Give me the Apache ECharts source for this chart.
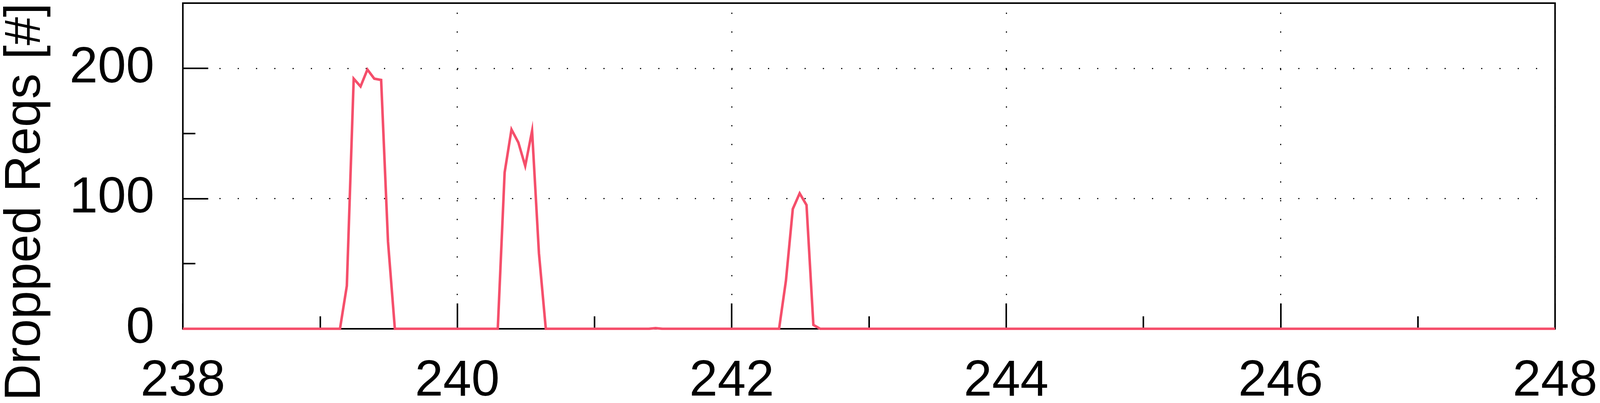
<!DOCTYPE html>
<html>
<head>
<meta charset="utf-8">
<script src="https://cdn.jsdelivr.net/npm/echarts@6/dist/echarts.min.js"></script>
<style>
html,body{margin:0;padding:0;background:#ffffff;overflow:hidden;}
#chart{width:100vw;height:100vh;}
</style>
</head>
<body>
<div id="chart"></div>
<script>
// time (x) and dropped requests (y)
const times = [238, 239.145, 239.195, 239.245, 239.295, 239.345, 239.395, 239.445, 239.495, 239.545,
               240.295, 240.345, 240.395, 240.445, 240.495, 240.545, 240.595, 240.645,
               241.395, 241.445, 241.495,
               242.345, 242.395, 242.445, 242.495, 242.545, 242.595, 242.645, 248];
const drops = [0, 0, 33, 192, 186, 199, 192, 191, 67, 0,
               0, 120, 153, 143, 125, 152, 58, 0,
               0, 0.5, 0,
               0, 37, 92, 104, 95, 3, 0, 0];
const xRange = [238, 248];
const xStep = 2;
const yRange = [0, 250];
const yMajorStep = 100;
const yMinorStep = 50;
const yTitle = 'Dropped Reqs [#]';

const FONT = 'Liberation Sans, Arial, Helvetica, sans-serif';
const FS = 130;
const lineColor = '#f54f6b';

const el = document.getElementById('chart');
const chart = echarts.init(el, null, {renderer: 'canvas'});
const W = chart.getWidth();
const sx = W / 4200;   // layout designed on a 4200-wide canvas

chart.setOption({
  animation: false,
  backgroundColor: '#ffffff',
  grid: {left: 480 * sx, right: 118 * sx, top: 8, bottom: 190, show: true, borderColor: '#000', borderWidth: 4,
         backgroundColor: 'transparent', containLabel: false, outerBoundsMode: 'none'},
  graphic: [{
    type: 'text', x: 68 * sx, y: 517, rotation: Math.PI / 2, silent: true,
    style: {text: yTitle, fill: '#000', font: FS + 'px ' + FONT, align: 'center', verticalAlign: 'middle'}
  }],
  xAxis: {
    type: 'value', min: xRange[0], max: xRange[1], interval: xStep,
    axisLine: {show: false},
    axisTick: {show: true, inside: true, length: 65, lineStyle: {color: '#000', width: 4}},
    minorTick: {show: true, splitNumber: 2, length: 32, lineStyle: {color: '#000', width: 4}},
    axisLabel: {color: '#000', fontSize: FS, fontFamily: FONT, margin: 70},
    splitLine: {show: true, lineStyle: {color: '#000', width: 3, type: [3, 45], dashOffset: 23.5}}
  },
  yAxis: [
    {
      type: 'value', position: 'left', min: yRange[0], max: yRange[1], interval: yMinorStep,
      axisLine: {show: false},
      axisTick: {show: true, inside: true, length: 32, lineStyle: {color: '#000', width: 4}},
      axisLabel: {show: false},
      splitLine: {show: false}
    },
    {
      type: 'value', position: 'left', min: yRange[0], max: yRange[1], interval: yMajorStep,
      axisLine: {show: false},
      axisTick: {show: true, inside: true, length: 65, lineStyle: {color: '#000', width: 4}},
      axisLabel: {color: '#000', fontSize: FS, fontFamily: FONT, margin: 75 * sx, showMaxLabel: false,
                  padding: [0, 0, 14, 0]},
      splitLine: {show: true, lineStyle: {color: '#000', width: 3, type: [3 * sx, 48 * sx - 3 * sx]}}
    }
  ],
  series: [{
    type: 'line', xAxisIndex: 0, yAxisIndex: 0,
    data: times.map((t, i) => [t, drops[i]]),
    showSymbol: false, symbol: 'none',
    lineStyle: {color: lineColor, width: 6.5, join: 'miter'},
    z: 5
  }]
});
</script>
</body>
</html>
